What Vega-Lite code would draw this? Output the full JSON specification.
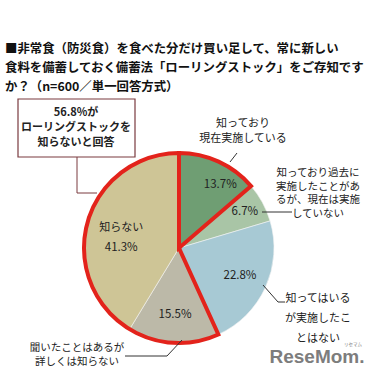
{
  "$schema": "https://vega.github.io/schema/vega-lite/v6.json",
  "width": 378,
  "height": 377,
  "autosize": {"type": "none"},
  "padding": 0,
  "background": "white",
  "view": {"stroke": null},
  "config": {"font": "Noto Sans CJK JP"},
  "datasets": {
    "answers": [
      {"answer": "知っており現在実施している", "label": "知っており\n現在実施している", "share": 0.137, "order": 1, "group": "現在実施"},
      {"answer": "知っており過去に実施したことがあるが、現在は実施していない", "label": "知っており過去に\n実施したことがあ\nるが、現在は実施\nしていない", "share": 0.067, "order": 2, "group": "その他"},
      {"answer": "知ってはいるが実施したことはない", "label": "知ってはいる\nが実施したこ\nとはない", "share": 0.228, "order": 3, "group": "その他"},
      {"answer": "聞いたことはあるが詳しくは知らない", "label": "聞いたことはあるが\n詳しくは知らない", "share": 0.155, "order": 4, "group": "知らない"},
      {"answer": "知らない", "label": "知らない", "share": 0.413, "order": 5, "group": "知らない"}
    ],
    "notes": [
      {
        "title": "■非常食（防災食）を食べた分だけ買い足して、常に新しい\n食料を備蓄しておく備蓄法「ローリングストック」をご存知です\nか？（n=600／単一回答方式）",
        "callout": "56.8%が\nローリングストックを\n知らないと回答",
        "credit": "ReseMom.",
        "creditKana": "リセマム"
      }
    ]
  },
  "layer": [
    {
      "data": {"name": "answers"},
      "mark": {"type": "arc", "outerRadius": 95, "stroke": "#f4f4f4", "strokeWidth": 0.6},
      "encoding": {
        "theta": {"field": "share", "type": "quantitative", "stack": true},
        "order": {"field": "order", "type": "quantitative"},
        "color": {"field": "answer", "type": "nominal", "legend": null,
          "scale": {"domain": ["知っており現在実施している", "知っており過去に実施したことがあるが、現在は実施していない", "知ってはいるが実施したことはない", "聞いたことはあるが詳しくは知らない", "知らない"],
                    "range": ["#6f9e73", "#a9c5a6", "#a7c9d4", "#bcb9a8", "#cec596"]}},
        "x": {"datum": 179, "type": "quantitative", "scale": {"domain": [0, 378], "nice": false, "zero": false}, "axis": null},
        "y": {"datum": 248, "type": "quantitative", "scale": {"domain": [0, 377], "nice": false, "zero": false, "reverse": true}, "axis": null}
      }
    },
    {
      "data": {"name": "answers"},
      "mark": {"type": "arc", "outerRadius": 95, "fill": "transparent", "strokeWidth": 4, "strokeJoin": "miter"},
      "encoding": {
        "theta": {"aggregate": "sum", "field": "share", "type": "quantitative", "stack": true},
        "order": {"aggregate": "min", "field": "order", "type": "quantitative"},
        "detail": {"field": "group", "type": "nominal"},
        "stroke": {"field": "group", "type": "nominal", "legend": null,
          "scale": {"domain": ["現在実施", "その他", "知らない"], "range": ["#e3231b", "transparent", "#e3231b"]}},
        "x": {"datum": 179, "type": "quantitative", "scale": {"domain": [0, 378], "nice": false, "zero": false}, "axis": null},
        "y": {"datum": 248, "type": "quantitative", "scale": {"domain": [0, 377], "nice": false, "zero": false, "reverse": true}, "axis": null}
      }
    },
    {
      "data": {"name": "answers"},
      "mark": {"type": "text", "radius": 75, "dx": 10, "dy": 5, "fontSize": 11.5, "fill": "#222", "baseline": "middle"},
      "encoding": {
        "theta": {"field": "share", "type": "quantitative", "stack": true},
        "order": {"field": "order", "type": "quantitative"},
        "text": {"field": "share", "type": "quantitative", "format": ".1%"},
        "opacity": {"condition": {"test": "datum.order === 1", "value": 1}, "value": 0},
        "x": {"datum": 179, "type": "quantitative", "scale": {"domain": [0, 378], "nice": false, "zero": false}, "axis": null},
        "y": {"datum": 248, "type": "quantitative", "scale": {"domain": [0, 377], "nice": false, "zero": false, "reverse": true}, "axis": null}
      }
    },
    {
      "data": {"name": "answers"},
      "mark": {"type": "text", "radius": 75, "fontSize": 11.5, "fill": "#222", "baseline": "middle"},
      "encoding": {
        "theta": {"field": "share", "type": "quantitative", "stack": true},
        "order": {"field": "order", "type": "quantitative"},
        "text": {"field": "share", "type": "quantitative", "format": ".1%"},
        "opacity": {"condition": {"test": "datum.order === 2", "value": 1}, "value": 0},
        "x": {"datum": 179, "type": "quantitative", "scale": {"domain": [0, 378], "nice": false, "zero": false}, "axis": null},
        "y": {"datum": 248, "type": "quantitative", "scale": {"domain": [0, 377], "nice": false, "zero": false, "reverse": true}, "axis": null}
      }
    },
    {
      "data": {"name": "answers"},
      "mark": {"type": "text", "radius": 67, "fontSize": 11.5, "fill": "#222", "baseline": "middle"},
      "encoding": {
        "theta": {"field": "share", "type": "quantitative", "stack": true},
        "order": {"field": "order", "type": "quantitative"},
        "text": {"field": "share", "type": "quantitative", "format": ".1%"},
        "opacity": {"condition": {"test": "datum.order === 3 || datum.order === 4", "value": 1}, "value": 0},
        "x": {"datum": 179, "type": "quantitative", "scale": {"domain": [0, 378], "nice": false, "zero": false}, "axis": null},
        "y": {"datum": 248, "type": "quantitative", "scale": {"domain": [0, 377], "nice": false, "zero": false, "reverse": true}, "axis": null}
      }
    },
    {
      "data": {"name": "answers"},
      "mark": {"type": "text", "radius": 60, "dy": 16, "fontSize": 11.5, "fill": "#222", "baseline": "middle"},
      "encoding": {
        "theta": {"field": "share", "type": "quantitative", "stack": true},
        "order": {"field": "order", "type": "quantitative"},
        "text": {"field": "share", "type": "quantitative", "format": ".1%"},
        "opacity": {"condition": {"test": "datum.order === 5", "value": 1}, "value": 0},
        "x": {"datum": 179, "type": "quantitative", "scale": {"domain": [0, 378], "nice": false, "zero": false}, "axis": null},
        "y": {"datum": 248, "type": "quantitative", "scale": {"domain": [0, 377], "nice": false, "zero": false, "reverse": true}, "axis": null}
      }
    },
    {
      "data": {"name": "answers"},
      "mark": {"type": "text", "radius": 60, "dy": -4, "fontSize": 11, "fill": "#222", "baseline": "middle"},
      "encoding": {
        "theta": {"field": "share", "type": "quantitative", "stack": true},
        "order": {"field": "order", "type": "quantitative"},
        "text": {"field": "label", "type": "nominal"},
        "opacity": {"condition": {"test": "datum.order === 5", "value": 1}, "value": 0},
        "x": {"datum": 179, "type": "quantitative", "scale": {"domain": [0, 378], "nice": false, "zero": false}, "axis": null},
        "y": {"datum": 248, "type": "quantitative", "scale": {"domain": [0, 377], "nice": false, "zero": false, "reverse": true}, "axis": null}
      }
    },
    {
      "data": {"name": "answers"},
      "transform": [{"filter": "datum.order === 1"}],
      "mark": {"type": "text", "fontSize": 11, "fill": "#222", "align": "center", "baseline": "alphabetic", "lineBreak": "\n", "lineHeight": 15},
      "encoding": {
        "text": {"field": "label", "type": "nominal"},
        "x": {"datum": 243, "type": "quantitative", "scale": {"domain": [0, 378], "nice": false, "zero": false}, "axis": null},
        "y": {"datum": 127, "type": "quantitative", "scale": {"domain": [0, 377], "nice": false, "zero": false, "reverse": true}, "axis": null}
      }
    },
    {
      "data": {"name": "answers"},
      "transform": [{"filter": "datum.order === 2"}],
      "mark": {"type": "text", "fontSize": 10.5, "fill": "#222", "align": "center", "baseline": "alphabetic", "lineBreak": "\n", "lineHeight": 13.5},
      "encoding": {
        "text": {"field": "label", "type": "nominal"},
        "x": {"datum": 318, "type": "quantitative", "scale": {"domain": [0, 378], "nice": false, "zero": false}, "axis": null},
        "y": {"datum": 176, "type": "quantitative", "scale": {"domain": [0, 377], "nice": false, "zero": false, "reverse": true}, "axis": null}
      }
    },
    {
      "data": {"name": "answers"},
      "transform": [{"filter": "datum.order === 3"}],
      "mark": {"type": "text", "fontSize": 11, "fill": "#222", "align": "center", "baseline": "alphabetic", "lineBreak": "\n", "lineHeight": 20},
      "encoding": {
        "text": {"field": "label", "type": "nominal"},
        "x": {"datum": 318, "type": "quantitative", "scale": {"domain": [0, 378], "nice": false, "zero": false}, "axis": null},
        "y": {"datum": 302, "type": "quantitative", "scale": {"domain": [0, 377], "nice": false, "zero": false, "reverse": true}, "axis": null}
      }
    },
    {
      "data": {"name": "answers"},
      "transform": [{"filter": "datum.order === 4"}],
      "mark": {"type": "text", "fontSize": 10.5, "fill": "#222", "align": "center", "baseline": "alphabetic", "lineBreak": "\n", "lineHeight": 13.6},
      "encoding": {
        "text": {"field": "label", "type": "nominal"},
        "x": {"datum": 77, "type": "quantitative", "scale": {"domain": [0, 378], "nice": false, "zero": false}, "axis": null},
        "y": {"datum": 351, "type": "quantitative", "scale": {"domain": [0, 377], "nice": false, "zero": false, "reverse": true}, "axis": null}
      }
    },
    {
      "data": {"name": "notes"},
      "mark": {"type": "rule", "stroke": "#333", "strokeWidth": 1},
      "encoding": {
        "x": {"datum": 237, "type": "quantitative", "scale": {"domain": [0, 378], "nice": false, "zero": false}, "axis": null},
        "x2": {"datum": 230},
        "y": {"datum": 153, "type": "quantitative", "scale": {"domain": [0, 377], "nice": false, "zero": false, "reverse": true}, "axis": null},
        "y2": {"datum": 162}
      }
    },
    {
      "data": {"name": "notes"},
      "mark": {"type": "rule", "stroke": "#333", "strokeWidth": 1},
      "encoding": {
        "x": {"datum": 262, "type": "quantitative", "scale": {"domain": [0, 378], "nice": false, "zero": false}, "axis": null},
        "x2": {"datum": 292},
        "y": {"datum": 212, "type": "quantitative", "scale": {"domain": [0, 377], "nice": false, "zero": false, "reverse": true}, "axis": null},
        "y2": {"datum": 212}
      }
    },
    {
      "data": {"name": "notes"},
      "mark": {"type": "rule", "stroke": "#333", "strokeWidth": 1},
      "encoding": {
        "x": {"datum": 263, "type": "quantitative", "scale": {"domain": [0, 378], "nice": false, "zero": false}, "axis": null},
        "x2": {"datum": 278},
        "y": {"datum": 285, "type": "quantitative", "scale": {"domain": [0, 377], "nice": false, "zero": false, "reverse": true}, "axis": null},
        "y2": {"datum": 302}
      }
    },
    {
      "data": {"name": "notes"},
      "mark": {"type": "rule", "stroke": "#333", "strokeWidth": 1},
      "encoding": {
        "x": {"datum": 278, "type": "quantitative", "scale": {"domain": [0, 378], "nice": false, "zero": false}, "axis": null},
        "x2": {"datum": 285},
        "y": {"datum": 302, "type": "quantitative", "scale": {"domain": [0, 377], "nice": false, "zero": false, "reverse": true}, "axis": null},
        "y2": {"datum": 302}
      }
    },
    {
      "data": {"name": "notes"},
      "mark": {"type": "rule", "stroke": "#333", "strokeWidth": 1},
      "encoding": {
        "x": {"datum": 125, "type": "quantitative", "scale": {"domain": [0, 378], "nice": false, "zero": false}, "axis": null},
        "x2": {"datum": 167},
        "y": {"datum": 356, "type": "quantitative", "scale": {"domain": [0, 377], "nice": false, "zero": false, "reverse": true}, "axis": null},
        "y2": {"datum": 356}
      }
    },
    {
      "data": {"name": "notes"},
      "mark": {"type": "rule", "stroke": "#333", "strokeWidth": 1},
      "encoding": {
        "x": {"datum": 167, "type": "quantitative", "scale": {"domain": [0, 378], "nice": false, "zero": false}, "axis": null},
        "x2": {"datum": 182},
        "y": {"datum": 356, "type": "quantitative", "scale": {"domain": [0, 377], "nice": false, "zero": false, "reverse": true}, "axis": null},
        "y2": {"datum": 340}
      }
    },
    {
      "data": {"name": "notes"},
      "mark": {"type": "rule", "stroke": "#7a3a3f", "strokeWidth": 1},
      "encoding": {
        "x": {"datum": 77, "type": "quantitative", "scale": {"domain": [0, 378], "nice": false, "zero": false}, "axis": null},
        "x2": {"datum": 77},
        "y": {"datum": 157, "type": "quantitative", "scale": {"domain": [0, 377], "nice": false, "zero": false, "reverse": true}, "axis": null},
        "y2": {"datum": 193}
      }
    },
    {
      "data": {"name": "notes"},
      "mark": {"type": "rule", "stroke": "#7a3a3f", "strokeWidth": 1},
      "encoding": {
        "x": {"datum": 77, "type": "quantitative", "scale": {"domain": [0, 378], "nice": false, "zero": false}, "axis": null},
        "x2": {"datum": 97},
        "y": {"datum": 193, "type": "quantitative", "scale": {"domain": [0, 377], "nice": false, "zero": false, "reverse": true}, "axis": null},
        "y2": {"datum": 193}
      }
    },
    {
      "data": {"name": "notes"},
      "mark": {"type": "rect", "fill": "white", "stroke": "#7a3a3f", "strokeWidth": 1.2},
      "encoding": {
        "x": {"datum": 18, "type": "quantitative", "scale": {"domain": [0, 378], "nice": false, "zero": false}, "axis": null},
        "x2": {"datum": 135},
        "y": {"datum": 99, "type": "quantitative", "scale": {"domain": [0, 377], "nice": false, "zero": false, "reverse": true}, "axis": null},
        "y2": {"datum": 157}
      }
    },
    {
      "data": {"name": "notes"},
      "mark": {"type": "text", "fontSize": 11, "fontWeight": "bold", "fill": "#222", "align": "center", "baseline": "alphabetic", "lineBreak": "\n", "lineHeight": 15},
      "encoding": {
        "text": {"field": "callout", "type": "nominal"},
        "x": {"datum": 76, "type": "quantitative", "scale": {"domain": [0, 378], "nice": false, "zero": false}, "axis": null},
        "y": {"datum": 116, "type": "quantitative", "scale": {"domain": [0, 377], "nice": false, "zero": false, "reverse": true}, "axis": null}
      }
    },
    {
      "data": {"name": "notes"},
      "mark": {"type": "text", "fontSize": 12.4, "fontWeight": "bold", "fill": "#111", "align": "left", "baseline": "alphabetic", "lineBreak": "\n", "lineHeight": 19},
      "encoding": {
        "text": {"field": "title", "type": "nominal"},
        "x": {"datum": 5, "type": "quantitative", "scale": {"domain": [0, 378], "nice": false, "zero": false}, "axis": null},
        "y": {"datum": 53, "type": "quantitative", "scale": {"domain": [0, 377], "nice": false, "zero": false, "reverse": true}, "axis": null}
      }
    },
    {
      "data": {"name": "notes"},
      "mark": {"type": "text", "font": "Liberation Sans", "fontSize": 19, "fontWeight": "bold", "fill": "#7d7d7d", "align": "center", "baseline": "alphabetic"},
      "encoding": {
        "text": {"field": "credit", "type": "nominal"},
        "x": {"datum": 317, "type": "quantitative", "scale": {"domain": [0, 378], "nice": false, "zero": false}, "axis": null},
        "y": {"datum": 363, "type": "quantitative", "scale": {"domain": [0, 377], "nice": false, "zero": false, "reverse": true}, "axis": null}
      }
    },
    {
      "data": {"name": "notes"},
      "mark": {"type": "text", "fontSize": 4.5, "fill": "#7d7d7d", "align": "center", "baseline": "alphabetic"},
      "encoding": {
        "text": {"field": "creditKana", "type": "nominal"},
        "x": {"datum": 353, "type": "quantitative", "scale": {"domain": [0, 378], "nice": false, "zero": false}, "axis": null},
        "y": {"datum": 346, "type": "quantitative", "scale": {"domain": [0, 377], "nice": false, "zero": false, "reverse": true}, "axis": null}
      }
    }
  ]
}
